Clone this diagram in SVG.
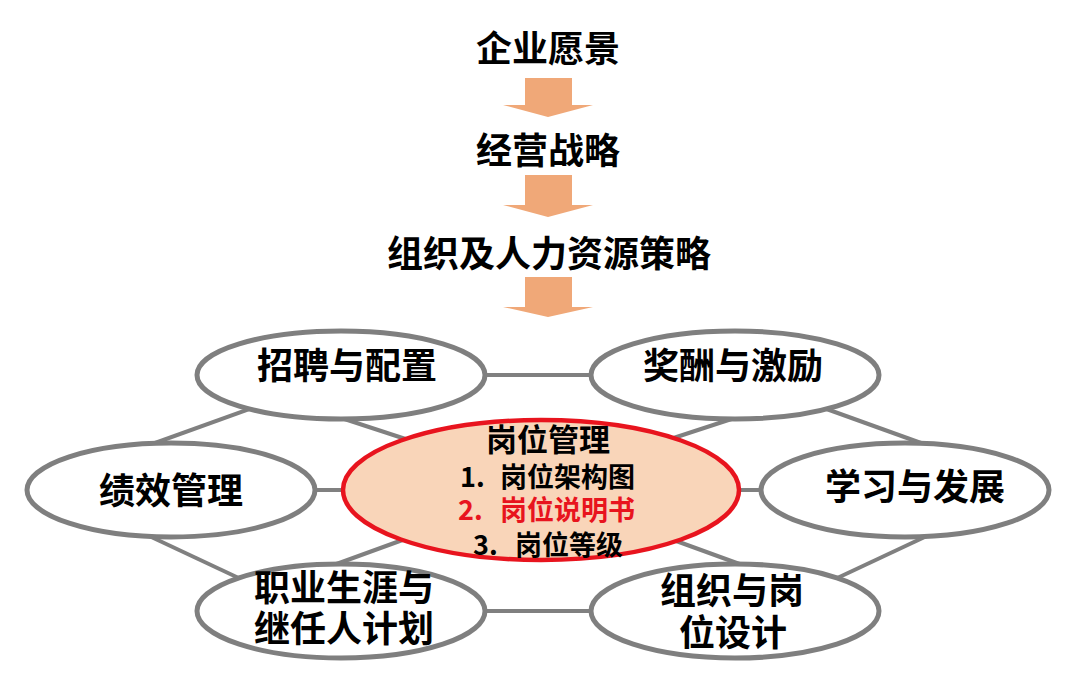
<svg xmlns="http://www.w3.org/2000/svg" width="1080" height="680" viewBox="0 0 1080 680">
<style>
.t{font-family:"Noto Sans CJK SC","Noto Sans",sans-serif;font-weight:700;fill:#000;text-anchor:middle}
.big{font-size:36px}
.mid{font-size:31px}
.sm{font-size:27px;text-anchor:start}
.red{fill:#e8141e}
.node{fill:#fff;stroke:#7f7f7f;stroke-width:5}
.core{fill:#f9d5b9;stroke:#e8141e;stroke-width:4.5}
.conn line{stroke:#808080;stroke-width:4}
.arrow{fill:#f0a878}
</style>
<rect width="1080" height="680" fill="#fff"/>
<g id="top-flow">
<text class="t big" x="548" y="62">企业愿景</text>
<polygon class="arrow" points="525,78 572,78 572,105 593,105 548,117 503,105 525,105"/>
<text class="t big" x="548" y="164">经营战略</text>
<polygon class="arrow" points="525,175 572,175 572,205 593,205 548,217 503,205 525,205"/>
<text class="t big" x="549" y="267">组织及人力资源策略</text>
<polygon class="arrow" points="525,277 572,277 572,307 593,307 548,317 503,307 525,307"/>
</g>
<g id="connectors" class="conn">
<line x1="400" y1="375" x2="680" y2="375"/>
<line x1="400" y1="611" x2="680" y2="611"/>
<line x1="250" y1="490" x2="830" y2="490"/>
<line x1="280" y1="398" x2="130" y2="452"/>
<line x1="130" y1="527" x2="260" y2="588"/>
<line x1="320" y1="411" x2="430" y2="447"/>
<line x1="430" y1="530" x2="320" y2="570"/>
<line x1="796" y1="398" x2="946" y2="452"/>
<line x1="946" y1="527" x2="816" y2="588"/>
<line x1="756" y1="411" x2="646" y2="447"/>
<line x1="646" y1="530" x2="756" y2="570"/>
</g>
<g id="n-recruit">
<ellipse class="node" cx="341" cy="375" rx="144" ry="44"/>
<text class="t big" x="347" y="379">招聘与配置</text>
</g>
<g id="n-reward">
<ellipse class="node" cx="735" cy="375" rx="144" ry="44"/>
<text class="t big" x="733" y="379">奖酬与激励</text>
</g>
<g id="n-perf">
<ellipse class="node" cx="171" cy="490" rx="144" ry="47"/>
<text class="t big" x="171" y="504">绩效管理</text>
</g>
<g id="n-learn">
<ellipse class="node" cx="905" cy="490" rx="144" ry="47"/>
<text class="t big" x="915" y="500">学习与发展</text>
</g>
<g id="n-career">
<ellipse class="node" cx="341" cy="611" rx="144" ry="47"/>
<text class="t big" x="344" y="601">职业生涯与</text>
<text class="t big" x="344" y="642">继任人计划</text>
</g>
<g id="n-org">
<ellipse class="node" cx="735" cy="611" rx="144" ry="47"/>
<text class="t big" x="732" y="604">组织与岗</text>
<text class="t big" x="733" y="646">位设计</text>
</g>
<g id="n-core">
<ellipse class="core" cx="541" cy="490" rx="198" ry="70"/>
<text class="t mid" x="548" y="451">岗位管理</text>
<text class="t sm" x="460" y="487">1.</text>
<text class="t sm" x="500" y="487">岗位架构图</text>
<text class="t sm red" x="458" y="520">2.</text>
<text class="t sm red" x="500" y="520">岗位说明书</text>
<text class="t sm" x="473" y="555">3.</text>
<text class="t sm" x="515" y="555">岗位等级</text>
</g>
</svg>
